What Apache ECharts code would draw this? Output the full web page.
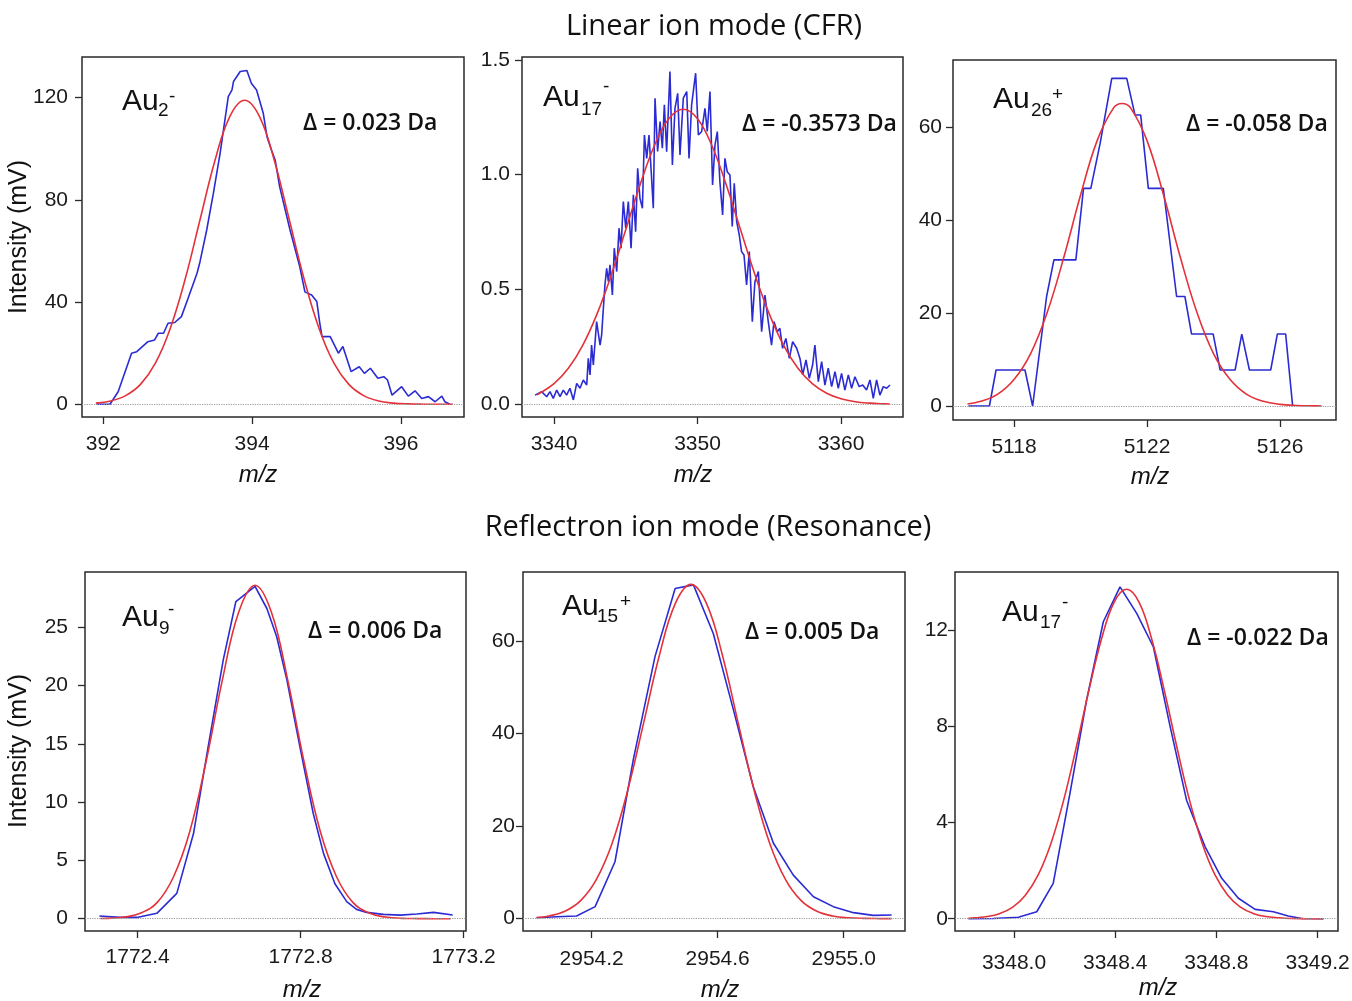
<!DOCTYPE html>
<html>
<head>
<meta charset="utf-8">
<title>Au cluster peaks</title>
<script src="https://cdn.jsdelivr.net/npm/echarts@6/dist/echarts.min.js"></script>
<style>
  html, body { margin: 0; padding: 0; background: #fff; }
  #chart { width: 1352px; height: 1001px; }
</style>
</head>
<body>
<div id="chart"></div>
<script>
// values, [m/z, intensity]
const p1Blue = [[391.91,0],[392.09,0],[392.20,4.9],[392.38,20],[392.45,20.6],[392.60,24.5],[392.69,25.2],[392.74,27.8],[392.81,27.8],[392.87,31.7],[392.96,32],[393.05,34.3],[393.14,41.5],[393.26,51.3],[393.30,55.8],[393.39,68.2],[393.48,82.6],[393.57,98.2],[393.68,120.4],[393.73,123],[393.75,126.3],[393.84,130.2],[393.93,130.6],[393.99,125.6],[394.06,123],[394.15,113.9],[394.20,104.7],[394.26,99.5],[394.31,95.6],[394.37,85.2],[394.51,68.2],[394.64,53.9],[394.71,44],[394.80,42.8],[394.87,40.2],[394.91,31.7],[394.94,26.5],[395.05,26.5],[395.16,20],[395.22,22.6],[395.33,12.8],[395.44,14.7],[395.51,12.1],[395.59,14.1],[395.69,10.2],[395.77,10.8],[395.82,9.5],[395.88,3.6],[396.01,6.9],[396.10,3.2],[396.19,5.3],[396.28,2.3],[396.37,3.0],[396.46,1.0],[396.55,3.2],[396.59,1],[396.66,0]];
const p1Red = [[391.9,0.46],[392.1,1.3],[392.3,3.4],[392.5,7.8],[392.7,16.1],[392.9,29.7],[393.1,48.9],[393.3,72.2],[393.5,95.3],[393.7,112.6],[393.9,119],[394.1,112.6],[394.3,95.3],[394.5,72.2],[394.7,48.9],[394.9,29.7],[395.1,16.1],[395.3,7.8],[395.5,3.4],[395.7,1.3],[395.9,0.46],[396.1,0.15],[396.3,0.04],[396.5,0.01],[396.7,0]];

const p2Blue = [[3338.68,0.04],[3339.14,0.055],[3339.49,0.033],[3339.72,0.055],[3339.95,0.026],[3340.19,0.062],[3340.42,0.033],[3340.65,0.062],[3340.88,0.04],[3341.11,0.07],[3341.35,0.019],[3341.58,0.091],[3341.81,0.07],[3342.04,0.106],[3342.28,0.084],[3342.39,0.2],[3342.51,0.128],[3342.62,0.258],[3342.74,0.171],[3342.97,0.36],[3343.21,0.258],[3343.32,0.302],[3343.44,0.418],[3343.55,0.52],[3343.67,0.592],[3343.79,0.534],[3343.9,0.607],[3344.07,0.476],[3344.2,0.68],[3344.37,0.578],[3344.53,0.767],[3344.67,0.68],[3344.83,0.883],[3345.0,0.767],[3345.18,0.883],[3345.37,0.68],[3345.53,0.912],[3345.69,0.752],[3345.83,1.028],[3345.99,0.897],[3346.16,0.854],[3346.3,1.173],[3346.46,1.071],[3346.62,1.173],[3346.76,1.028],[3346.92,0.854],[3347.04,1.333],[3347.22,1.101],[3347.39,1.231],[3347.55,1.115],[3347.69,1.304],[3347.85,1.1],[3348.08,1.449],[3348.25,1.042],[3348.43,1.289],[3348.62,1.354],[3348.78,1.086],[3349.01,1.333],[3349.25,1.362],[3349.41,1.071],[3349.59,1.304],[3349.87,1.442],[3350.06,1.173],[3350.29,1.188],[3350.52,1.289],[3350.68,1.188],[3350.87,1.362],[3351.05,0.955],[3351.22,1.13],[3351.38,1.188],[3351.56,0.97],[3351.75,0.825],[3351.91,1.071],[3352.07,1.013],[3352.26,0.999],[3352.42,0.774],[3352.56,0.963],[3352.73,0.796],[3352.91,0.738],[3353.07,0.665],[3353.24,0.65],[3353.42,0.52],[3353.61,0.665],[3353.82,0.36],[3354.0,0.534],[3354.24,0.578],[3354.47,0.316],[3354.7,0.476],[3354.93,0.36],[3355.16,0.258],[3355.33,0.36],[3355.56,0.316],[3355.74,0.331],[3355.93,0.244],[3356.16,0.287],[3356.4,0.2],[3356.63,0.273],[3356.91,0.244],[3357.14,0.2],[3357.33,0.128],[3357.56,0.193],[3357.79,0.113],[3358.02,0.171],[3358.18,0.258],[3358.42,0.099],[3358.65,0.186],[3358.88,0.084],[3359.11,0.157],[3359.35,0.077],[3359.58,0.142],[3359.81,0.07],[3360.04,0.135],[3360.27,0.062],[3360.51,0.128],[3360.74,0.07],[3360.97,0.12],[3361.27,0.077],[3361.51,0.084],[3361.78,0.062],[3362.02,0.106],[3362.25,0.026],[3362.48,0.106],[3362.71,0.04],[3362.95,0.077],[3363.18,0.07],[3363.41,0.084]];
const p2Red = [[3338.8,0.042],[3339,0.048],[3340,0.09],[3341,0.157],[3342,0.257],[3343,0.394],[3344,0.565],[3345,0.76],[3346,0.956],[3347,1.127],[3348,1.244],[3349,1.285],[3350,1.244],[3351,1.127],[3352,0.956],[3353,0.76],[3354,0.565],[3355,0.394],[3356,0.257],[3357,0.157],[3358,0.09],[3359,0.048],[3360,0.024],[3361,0.011],[3362,0.005],[3363,0.002],[3363.4,0.0014]];

const p3Blue = [[5116.63,0],[5117.26,0],[5117.46,7.76],[5118.33,7.76],[5118.56,0],[5118.98,23.6],[5119.2,31.5],[5119.86,31.5],[5120.09,46.9],[5120.31,46.9],[5120.59,56.6],[5120.94,70.6],[5121.39,70.6],[5121.64,62.7],[5121.81,62.7],[5122.04,46.9],[5122.49,46.9],[5122.89,23.6],[5123.14,23.6],[5123.34,15.5],[5123.99,15.5],[5124.2,7.76],[5124.65,7.76],[5124.85,15.5],[5125.08,7.76],[5125.72,7.76],[5125.92,15.5],[5126.17,15.5],[5126.38,0]];
const p3Red = [[5116.6,0.44],[5117.0,1.0],[5117.5,2.5],[5118.0,5.7],[5118.5,11.3],[5119.0,20.2],[5119.5,32.1],[5120.0,45.4],[5120.5,57.2],[5121.0,64.3],[5121.25,65.2],[5121.5,64.3],[5122.0,57.2],[5122.5,45.4],[5123.0,32.1],[5123.5,20.2],[5124.0,11.3],[5124.5,5.7],[5125.0,2.5],[5125.5,1.0],[5126.0,0.35],[5126.5,0.11],[5127.0,0.03],[5127.25,0.01]];

const p4Blue = [[1772.306,0.23],[1772.357,0.11],[1772.398,0.11],[1772.447,0.46],[1772.496,2.17],[1772.537,7.3],[1772.573,14.75],[1772.61,22.2],[1772.641,27.2],[1772.688,28.5],[1772.717,26.6],[1772.741,24.2],[1772.766,20.5],[1772.798,14.75],[1772.831,9.0],[1772.856,5.6],[1772.884,3.0],[1772.913,1.46],[1772.937,0.8],[1772.962,0.54],[1773.003,0.37],[1773.044,0.31],[1773.085,0.4],[1773.126,0.54],[1773.173,0.31]];
const p4Red = [[1772.308,0.02],[1772.328,0.03],[1772.368,0.14],[1772.408,0.48],[1772.448,1.4],[1772.488,3.6],[1772.528,7.5],[1772.568,13.5],[1772.608,20.5],[1772.648,26.3],[1772.688,28.6],[1772.728,26.3],[1772.768,20.5],[1772.808,13.5],[1772.848,7.5],[1772.888,3.6],[1772.928,1.4],[1772.968,0.48],[1773.008,0.14],[1773.048,0.03],[1773.088,0.01],[1773.128,0],[1773.168,0]];

const p5Blue = [[2954.025,0.2],[2954.089,0.43],[2954.152,0.58],[2954.211,2.6],[2954.274,12.3],[2954.332,34.3],[2954.401,56.6],[2954.465,71.3],[2954.523,72.1],[2954.586,61.6],[2954.65,45.1],[2954.713,28.5],[2954.777,16.3],[2954.84,9.4],[2954.904,4.75],[2954.967,2.6],[2955.031,1.3],[2955.094,0.72],[2955.152,0.79]];
const p5Red = [[2954.025,0.24],[2954.065,0.58],[2954.115,1.6],[2954.165,3.9],[2954.215,8.5],[2954.265,16.3],[2954.315,27.9],[2954.365,42.3],[2954.415,56.9],[2954.465,68.0],[2954.515,72.2],[2954.565,68.0],[2954.615,56.9],[2954.665,42.3],[2954.715,27.9],[2954.765,16.3],[2954.815,8.5],[2954.865,3.9],[2954.915,1.6],[2954.965,0.58],[2955.015,0.19],[2955.065,0.06],[2955.115,0.02],[2955.152,0.01]];

const p6Blue = [[3347.82,0],[3347.918,0.01],[3348.017,0.06],[3348.09,0.29],[3348.155,1.47],[3348.221,5.2],[3348.287,9.1],[3348.353,12.35],[3348.419,13.8],[3348.485,12.7],[3348.551,11.3],[3348.617,8.0],[3348.682,4.93],[3348.755,3.0],[3348.821,1.68],[3348.887,0.85],[3348.953,0.39],[3349.025,0.29],[3349.084,0.11],[3349.137,0.01],[3349.223,0]];
const p6Red = [[3347.82,0.02],[3347.845,0.04],[3347.895,0.09],[3347.945,0.22],[3347.995,0.48],[3348.045,0.98],[3348.095,1.81],[3348.145,3.1],[3348.195,4.88],[3348.245,7.08],[3348.295,9.45],[3348.345,11.6],[3348.395,13.15],[3348.445,13.7],[3348.495,13.15],[3348.545,11.6],[3348.595,9.45],[3348.645,7.08],[3348.695,4.88],[3348.745,3.1],[3348.795,1.81],[3348.845,0.98],[3348.895,0.48],[3348.945,0.22],[3348.995,0.09],[3349.045,0.04],[3349.095,0.012],[3349.145,0.003],[3349.223,0]];

// tick labels
const p1XTicks = [392, 394, 396];
const p1YTicks = [0, 40, 80, 120];
const p2XTicks = [3340, 3350, 3360];
const p2YTicks = [0, 0.5, 1.0, 1.5];
const p3XTicks = [5118, 5122, 5126];
const p3YTicks = [0, 20, 40, 60];
const p4XTicks = [1772.4, 1772.8, 1773.2];
const p4YTicks = [0, 5, 10, 15, 20, 25];
const p5XTicks = [2954.2, 2954.6, 2955.0];
const p5YTicks = [0, 20, 40, 60];
const p6XTicks = [3348.0, 3348.4, 3348.8, 3349.2];
const p6YTicks = [0, 4, 8, 12];

// cluster names and mass errors
const clusterSub = ['2', '17', '26', '9', '15', '17'];
const clusterSup = ['-', '-', '+', '-', '+', '-'];
const deltas = ['0.023', '-0.3573', '-0.058', '0.006', '0.005', '-0.022'];

// panel layout
const panels = [
  { rect: [82, 57, 382, 360], x: [391.714, 396.848], y: [-4.97, 135.9], xT: p1XTicks, yT: p1YTicks, xDec: 0, yDec: 0, xM: 17, yM: 14, blue: p1Blue, red: p1Red },
  { rect: [522, 57, 381, 360], x: [3337.77, 3364.32], y: [-0.0553, 1.5125], xT: p2XTicks, yT: p2YTicks, xDec: 0, yDec: 1, xM: 17, yM: 12, blue: p2Blue, red: p2Red },
  { rect: [953, 60, 383, 360], x: [5116.165, 5127.684], y: [-3.02, 74.57], xT: p3XTicks, yT: p3YTicks, xDec: 0, yDec: 0, xM: 17, yM: 11, blue: p3Blue, red: p3Red },
  { rect: [85, 572, 381, 359], x: [1772.2707, 1773.2057], y: [-1.055, 29.73], xT: p4XTicks, yT: p4YTicks, xDec: 1, yDec: 0, xM: 16, yM: 17, blue: p4Blue, red: p4Red },
  { rect: [523, 572, 382, 359], x: [2953.982, 2955.1946], y: [-2.66, 74.88], xT: p5XTicks, yT: p5YTicks, xDec: 1, yDec: 0, xM: 18, yM: 8, blue: p5Blue, red: p5Red },
  { rect: [955, 572, 383, 359], x: [3347.7668, 3349.2806], y: [-0.511, 14.42], xT: p6XTicks, yT: p6YTicks, xDec: 1, yDec: 0, xM: 22, yM: 7, blue: p6Blue, red: p6Red }
];

// text positions: [Au left, Au baseline, sub x, sub baseline, sup x, sup centre, delta left, delta centre, m/z centre x, m/z centre y]
const textPos = [
  [122, 112, 158, 117, 169, 97, 303, 123, 258, 475],
  [543, 108, 581, 116, 603, 87, 742, 124, 693, 475],
  [993, 110, 1031, 117, 1052, 95, 1186, 124, 1150, 477],
  [122, 628, 159, 635, 168, 610, 308, 631, 302, 990],
  [562, 617, 597, 623, 620, 602, 745, 632, 720, 990],
  [1002, 623, 1040, 629, 1062, 603, 1187, 638, 1158, 988]
];

const ARIAL = '"Liberation Sans", Arial, sans-serif';
const SANS = '"Open Sans", sans-serif';
const BLUE = '#2b2bd4';
const RED = '#e3323a';

const chart = echarts.init(document.getElementById('chart'), null, { renderer: 'canvas' });

const grid = panels.map(p => ({
  left: p.rect[0], top: p.rect[1], width: p.rect[2], height: p.rect[3],
  show: true, borderColor: '#2a2a2a', borderWidth: 1.5,
  containLabel: false, outerBoundsMode: 'none'
}));

const xAxis = panels.map((p, i) => ({
  type: 'value', gridIndex: i, min: p.x[0], max: p.x[1],
  axisLine: { show: false, onZero: false },
  axisTick: { show: true, length: 7, customValues: p.xT, lineStyle: { color: '#2a2a2a', width: 1.3 } },
  axisLabel: { customValues: p.xT, margin: p.xM, fontSize: 21, fontFamily: ARIAL, color: '#1a1a1a',
    formatter: v => Number(v).toFixed(p.xDec) },
  splitLine: { show: false }
}));

const yAxis = panels.map((p, i) => ({
  type: 'value', gridIndex: i, min: p.y[0], max: p.y[1],
  axisLine: { show: false, onZero: false },
  axisTick: { show: true, length: 7, customValues: p.yT, lineStyle: { color: '#2a2a2a', width: 1.3 } },
  axisLabel: { customValues: p.yT, margin: p.yM, fontSize: 21, fontFamily: ARIAL, color: '#1a1a1a',
    formatter: v => Number(v).toFixed(p.yDec) },
  splitLine: { show: false }
}));

const series = [];
panels.forEach((p, i) => {
  series.push({
    type: 'line', xAxisIndex: i, yAxisIndex: i, data: p.blue,
    showSymbol: false, lineStyle: { color: BLUE, width: 1.6 }, z: 2,
    markLine: {
      silent: true, symbol: ['none', 'none'], label: { show: false },
      lineStyle: { color: '#9a9a9a', type: 'dotted', width: 1.2 },
      data: [{ yAxis: 0 }]
    }
  });
  series.push({
    type: 'line', xAxisIndex: i, yAxisIndex: i, data: p.red, smooth: 0.4,
    showSymbol: false, lineStyle: { color: RED, width: 1.6 }, z: 3
  });
});

const graphic = [
  { type: 'text', x: 714, y: 27, style: { text: 'Linear ion mode (CFR)', font: '29px ' + SANS, fill: '#111', align: 'center', verticalAlign: 'middle' } },
  { type: 'text', x: 708, y: 528, style: { text: 'Reflectron ion mode (Resonance)', font: '29px ' + SANS, fill: '#111', align: 'center', verticalAlign: 'middle' } },
  { type: 'text', x: 19, y: 237, rotation: Math.PI / 2, style: { text: 'Intensity (mV)', font: '25px ' + ARIAL, fill: '#111', align: 'center', verticalAlign: 'middle' } },
  { type: 'text', x: 19, y: 751, rotation: Math.PI / 2, style: { text: 'Intensity (mV)', font: '25px ' + ARIAL, fill: '#111', align: 'center', verticalAlign: 'middle' } }
];

textPos.forEach((t, i) => {
  graphic.push(
    { type: 'text', x: t[0], y: t[1] - 10.5, style: { text: 'Au', font: '30px ' + ARIAL, fill: '#111', align: 'left', verticalAlign: 'middle' } },
    { type: 'text', x: t[2], y: t[3] - 6.6, style: { text: clusterSub[i], font: '19px ' + ARIAL, fill: '#111', align: 'left', verticalAlign: 'middle' } },
    { type: 'text', x: t[4], y: t[5], style: { text: clusterSup[i], font: '19px ' + ARIAL, fill: '#111', align: 'left', verticalAlign: 'middle' } },
    { type: 'text', x: t[6], y: t[7], style: { text: '\u0394 = ' + deltas[i] + ' Da', font: '600 23px ' + SANS, fill: '#111', align: 'left', verticalAlign: 'middle' } },
    { type: 'text', x: t[8], y: t[9], style: { text: 'm/z', font: 'italic 24px ' + ARIAL, fill: '#111', align: 'center', verticalAlign: 'middle' } }
  );
});

chart.setOption({
  animation: false,
  backgroundColor: '#fff',
  grid, xAxis, yAxis, series, graphic
});
</script>
</body>
</html>
